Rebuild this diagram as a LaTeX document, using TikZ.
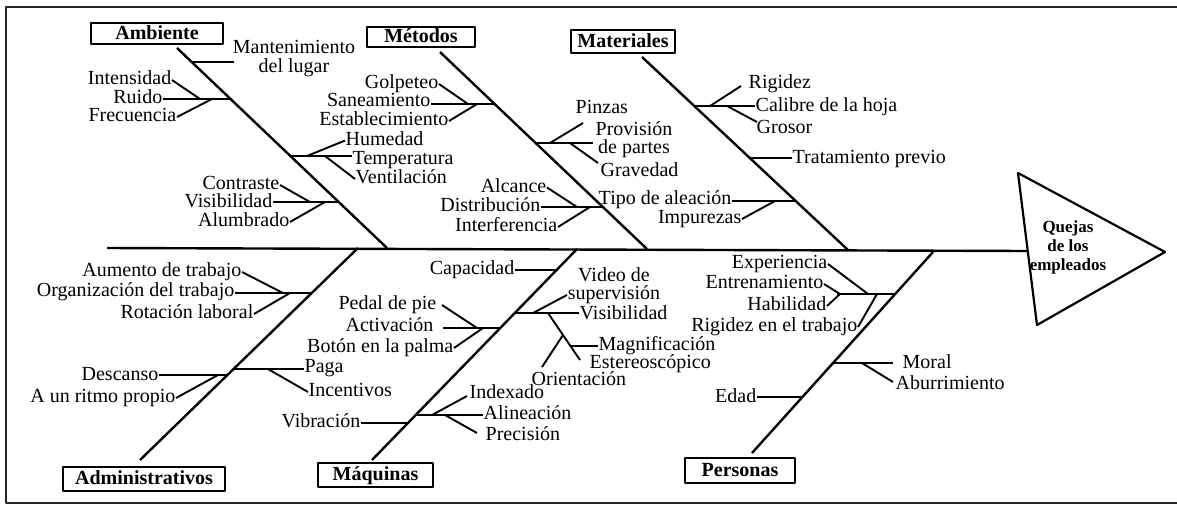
\documentclass[tikz,border=0pt]{standalone}
\usepackage{fontspec}
\setmainfont{Liberation Serif}
\begin{document}
\begin{tikzpicture}[x=1pt,y=-1pt,line join=round,line cap=butt,
  bone/.style={line width=2.4pt},
  twig/.style={line width=1.9pt},
  lbl/.style={inner sep=0.5pt,font=\fontsize{20}{19}\selectfont,text height=12pt,text depth=3pt},
  lbltwo/.style={inner sep=0.5pt,font=\fontsize{20}{18}\selectfont,text height=30pt,text depth=3pt,align=center},
  cat/.style={draw,line width=2.2pt,inner sep=0pt,font=\bfseries\fontsize{20}{20}\selectfont,text height=13pt,text depth=2pt}]
\useasboundingbox (0,0) rectangle (1177,507);
% frame
\draw[line width=1.6pt,black!85] (1180,7) -- (6,7) -- (6,503) -- (1180,503);
% spine and effect
\coordinate (spL) at (107,248);
\coordinate (spR) at (1028,251);
\coordinate (tA) at (1018,173);
\coordinate (tB) at (1165,252);
\coordinate (tC) at (1037,325);
\draw[bone] (spL) -- (spR);
\draw[line width=2.2pt] (tA) -- (tB) -- (tC) -- cycle;
\node[inner sep=0pt,align=center,font=\bfseries\fontsize{17}{19}\selectfont,text height=50pt,text depth=3pt] (efecto) at (1068,246.5) {Quejas\\de los\\empleados};
% main bones
\coordinate (A1) at (177,48);  \coordinate (A0) at (387,248);
\coordinate (M1) at (440,52);  \coordinate (M0) at (647,249);
\coordinate (T1) at (642,57);  \coordinate (T0) at (848,250);
\coordinate (D1) at (140,460); \coordinate (D0) at (358,248);
\coordinate (Q1) at (372,460); \coordinate (Q0) at (577,249);
\coordinate (P1) at (752,453); \coordinate (P0) at (933,252);
\draw[bone] (A1) -- (A0);
\draw[bone] (M1) -- (M0);
\draw[bone] (T1) -- (T0);
\draw[bone] (D1) -- (D0);
\draw[bone] (Q1) -- (Q0);
\draw[bone] (P1) -- (P0);
% category boxes
\node[cat,minimum width=132pt,minimum height=21pt] (ambiente) at (157,33.5) {Ambiente};
\node[cat,minimum width=108pt,minimum height=20pt] (metodos) at (421,37) {Métodos};
\node[cat,minimum width=104pt,minimum height=23pt] (materiales) at (623,41.5) {Materiales};
\node[cat,minimum width=162pt,minimum height=24pt] (administ) at (144,479) {Administrativos};
\node[cat,minimum width=115pt,minimum height=24pt] (maquinas) at (375.5,475) {Máquinas};
\node[cat,minimum width=110pt,minimum height=25pt] (personas) at (740,470.5) {Personas};
% ---------- Ambiente
\coordinate (am1) at (192,62); \coordinate (am1e) at (234,62);
\node[lbltwo,font=\fontsize{20}{19}\selectfont,text height=31pt] (mant) at (294,58) {Mantenimiento\\del lugar};
\draw[twig] (am1) -- (am1e);
\coordinate (am2) at (231,99); \coordinate (am2f) at (200,99); \coordinate (am2g) at (212,99);
\node[lbl,anchor=east] (intens) at (172,80) {Intensidad};
\node[lbl,anchor=east] (ruido) at (163,99) {Ruido};
\node[lbl,anchor=east] (frec) at (177,117) {Frecuencia};
\draw[twig] (am2) -- (am2 -| ruido.east);
\draw[twig] (intens.east) -- (am2f);
\draw[twig] (frec.east) -- (am2g);
\coordinate (am3) at (290,156); \coordinate (am3f) at (307,156); \coordinate (am3g) at (325,156);
\node[lbl,anchor=west] (humedad) at (345,140.5) {Humedad};
\node[lbl,anchor=west] (temp) at (352,159.5) {Temperatura};
\node[lbl,anchor=west] (vent) at (355,179) {Ventilación};
\draw[twig] (am3) -- (am3 -| temp.west);
\draw[twig] (am3f) -- (humedad.west);
\draw[twig] (am3g) -- (vent.west);
\coordinate (am4) at (339,202); \coordinate (am4f) at (310,202); \coordinate (am4g) at (325,202);
\node[lbl,anchor=east] (contraste) at (280,185) {Contraste};
\node[lbl,anchor=east] (visib) at (273,203) {Visibilidad};
\node[lbl,anchor=east] (alumb) at (290,222) {Alumbrado};
\draw[twig] (am4) -- (am4 -| visib.east);
\draw[twig] (contraste.east) -- (am4f);
\draw[twig] (alumb.east) -- (am4g);
% ---------- Metodos
\coordinate (me1) at (495,104); \coordinate (me1f) at (468,104); \coordinate (me1g) at (477,104);
\node[lbl,anchor=east] (golp) at (439,84) {Golpeteo};
\node[lbl,anchor=east] (sane) at (431,102) {Saneamiento};
\node[lbl,anchor=east] (estab) at (449,121) {Establecimiento};
\draw[twig] (me1) -- (me1 -| sane.east);
\draw[twig] (golp.east) -- (me1f);
\draw[twig] (estab.east) -- (me1g);
\coordinate (me2) at (536,143); \coordinate (me2e) at (593,143); \coordinate (me2f) at (550,143); \coordinate (me2g) at (570,143);
\coordinate (me2p) at (583,123); \coordinate (me2v) at (598,163);
\node[lbl,anchor=west] (pinzas) at (575,109) {Pinzas};
\node[lbltwo] (provis) at (634,139.5) {Provisión\\de partes};
\node[lbl,anchor=west] (grav) at (600,172) {Gravedad};
\draw[twig] (me2) -- (me2e);
\draw[twig] (me2f) -- (me2p);
\draw[twig] (me2g) -- (me2v);
\coordinate (me3) at (604,207); \coordinate (me3f) at (577,207); \coordinate (me3g) at (590,207);
\node[lbl,anchor=east] (alc) at (547,187.5) {Alcance};
\node[lbl,anchor=east] (distr) at (541,206.5) {Distribución};
\node[lbl,anchor=east] (interf) at (558,227) {Interferencia};
\draw[twig] (me3) -- (me3 -| distr.east);
\draw[twig] (alc.east) -- (me3f);
\draw[twig] (interf.east) -- (me3g);
% ---------- Materiales
\coordinate (ma1) at (695,106); \coordinate (ma1f) at (710,106); \coordinate (ma1g) at (727,106);
\coordinate (ma1r) at (741,86); \coordinate (ma1s) at (757,122);
\node[lbl,anchor=west] (rig) at (748,84) {Rigidez};
\node[lbl,anchor=west] (calib) at (755,107) {Calibre de la hoja};
\node[lbl,anchor=west] (gros) at (756,129) {Grosor};
\draw[twig] (ma1) -- (ma1 -| calib.west);
\draw[twig] (ma1f) -- (ma1r);
\draw[twig] (ma1g) -- (ma1s);
\coordinate (ma2) at (751,158);
\node[lbl,anchor=west] (trat) at (792,159) {Tratamiento previo};
\draw[twig] (ma2) -- (ma2 -| trat.west);
\coordinate (ma3) at (797,201); \coordinate (ma3f) at (775,201);
\node[lbl,anchor=east] (tipo) at (732,200) {Tipo de aleación};
\node[lbl,anchor=east] (impur) at (742,219) {Impurezas};
\draw[twig] (ma3) -- (ma3 -| tipo.east);
\draw[twig] (impur.east) -- (ma3f);
% ---------- Administrativos
\coordinate (ad1) at (312,293); \coordinate (ad1f) at (283,293); \coordinate (ad1g) at (290,293);
\node[lbl,anchor=east] (aum) at (242,272) {Aumento de trabajo};
\node[lbl,anchor=east] (org) at (235,292) {Organización del trabajo};
\node[lbl,anchor=east] (rot) at (254,314) {Rotación laboral};
\draw[twig] (ad1) -- (ad1 -| org.east);
\draw[twig] (aum.east) -- (ad1f);
\draw[twig] (rot.east) -- (ad1g);
\coordinate (ad2L) at (227,375); \coordinate (ad2f) at (218,375);
\node[lbl,anchor=east] (desc) at (159,376) {Descanso};
\node[lbl,anchor=east] (ritmo) at (176,398) {A un ritmo propio};
\draw[twig] (ad2L) -- (ad2L -| desc.east);
\draw[twig] (ritmo.east) -- (ad2f);
\coordinate (ad2R) at (233,369); \coordinate (ad2g) at (268,369);
\node[lbl,anchor=west] (paga) at (304,368) {Paga};
\node[lbl,anchor=west] (incent) at (308,392) {Incentivos};
\draw[twig] (ad2R) -- (ad2R -| paga.west);
\draw[twig] (ad2g) -- (incent.west);
% ---------- Maquinas
\coordinate (mq1) at (557,270);
\node[lbl,anchor=east] (capac) at (515,270) {Capacidad};
\draw[twig] (mq1) -- (capac.east);
\coordinate (mq2) at (500,328); \coordinate (mq2a) at (443,328); \coordinate (mq2f) at (477,328); \coordinate (mq2g) at (483,328);
\coordinate (mq2p) at (442,305);
\node[lbl,anchor=east] (pedal) at (437,305) {Pedal de pie};
\node[lbl,anchor=east] (activ) at (434,327) {Activación};
\node[lbl,anchor=east] (boton) at (454,348) {Botón en la palma};
\draw[twig] (mq2) -- (mq2a);
\draw[twig] (mq2p) -- (mq2f);
\draw[twig] (boton.east) -- (mq2g);
\coordinate (mq3) at (515,313); \coordinate (mq3f) at (533,313); \coordinate (mq3g) at (548,313);
\coordinate (mq3v) at (567,295); \coordinate (mq3d) at (580,360);
\coordinate (mq3m) at (571,346); \coordinate (mq3o) at (563,335); \coordinate (mq3oe) at (542,367);
\node[lbltwo] (video) at (614,285.5) {Video de\\supervisión};
\node[lbl,anchor=west] (visib2) at (579,315) {Visibilidad};
\node[lbl,anchor=west] (magn) at (598,346) {Magnificación};
\node[lbl,anchor=west] (ester) at (589,364) {Estereoscópico};
\node[lbl,anchor=west] (orient) at (531,381) {Orientación};
\draw[twig] (mq3) -- (mq3 -| visib2.west);
\draw[twig] (mq3f) -- (mq3v);
\draw[twig] (mq3g) -- (mq3d);
\draw[twig] (mq3m) -- (mq3m -| magn.west);
\draw[twig] (mq3o) -- (mq3oe);
\coordinate (mq4L) at (408,423);
\node[lbl,anchor=east] (vibr) at (361,423) {Vibración};
\draw[twig] (mq4L) -- (vibr.east);
\coordinate (mq4R) at (415,415); \coordinate (mq4f) at (432,415); \coordinate (mq4g) at (445,415);
\coordinate (mq4i) at (467,396); \coordinate (mq4p) at (477,433);
\node[lbl,anchor=west] (index) at (469,394) {Indexado};
\node[lbl,anchor=west] (aline) at (483,415) {Alineación};
\node[lbl,anchor=west] (prec) at (485,436) {Precisión};
\draw[twig] (mq4R) -- (mq4R -| aline.west);
\draw[twig] (mq4f) -- (mq4i);
\draw[twig] (mq4g) -- (mq4p);
% ---------- Personas
\coordinate (pe1) at (896,294); \coordinate (pe1e) at (837,294); \coordinate (pe1f) at (868,294);
\coordinate (pe1g) at (877,294); \coordinate (pe1h) at (840,294);
\node[lbl,anchor=east] (exper) at (828,264) {Experiencia};
\node[lbl,anchor=east] (entren) at (824,284) {Entrenamiento};
\node[lbl,anchor=east] (habil) at (827,306) {Habilidad};
\node[lbl,anchor=east] (rigtr) at (858,327) {Rigidez en el trabajo};
\draw[twig] (pe1) -- (pe1e);
\draw[twig] (exper.east) -- (pe1f);
\draw[twig] (entren.east) -- (pe1h);
\draw[twig] (habil.east) -- (pe1h);
\draw[twig] (rigtr.east) -- (pe1g);
\coordinate (pe2) at (833,363); \coordinate (pe2e) at (893,363); \coordinate (pe2f) at (862,363); \coordinate (pe2g) at (893,382);
\node[lbl,anchor=west] (moral) at (902,364) {Moral};
\node[lbl,anchor=west] (aburr) at (895,385) {Aburrimiento};
\draw[twig] (pe2) -- (pe2e);
\draw[twig] (pe2f) -- (pe2g);
\coordinate (pe3) at (803,397);
\node[lbl,anchor=east] (edad) at (757,398) {Edad};
\draw[twig] (pe3) -- (pe3 -| edad.east);
\end{tikzpicture}
\end{document}
